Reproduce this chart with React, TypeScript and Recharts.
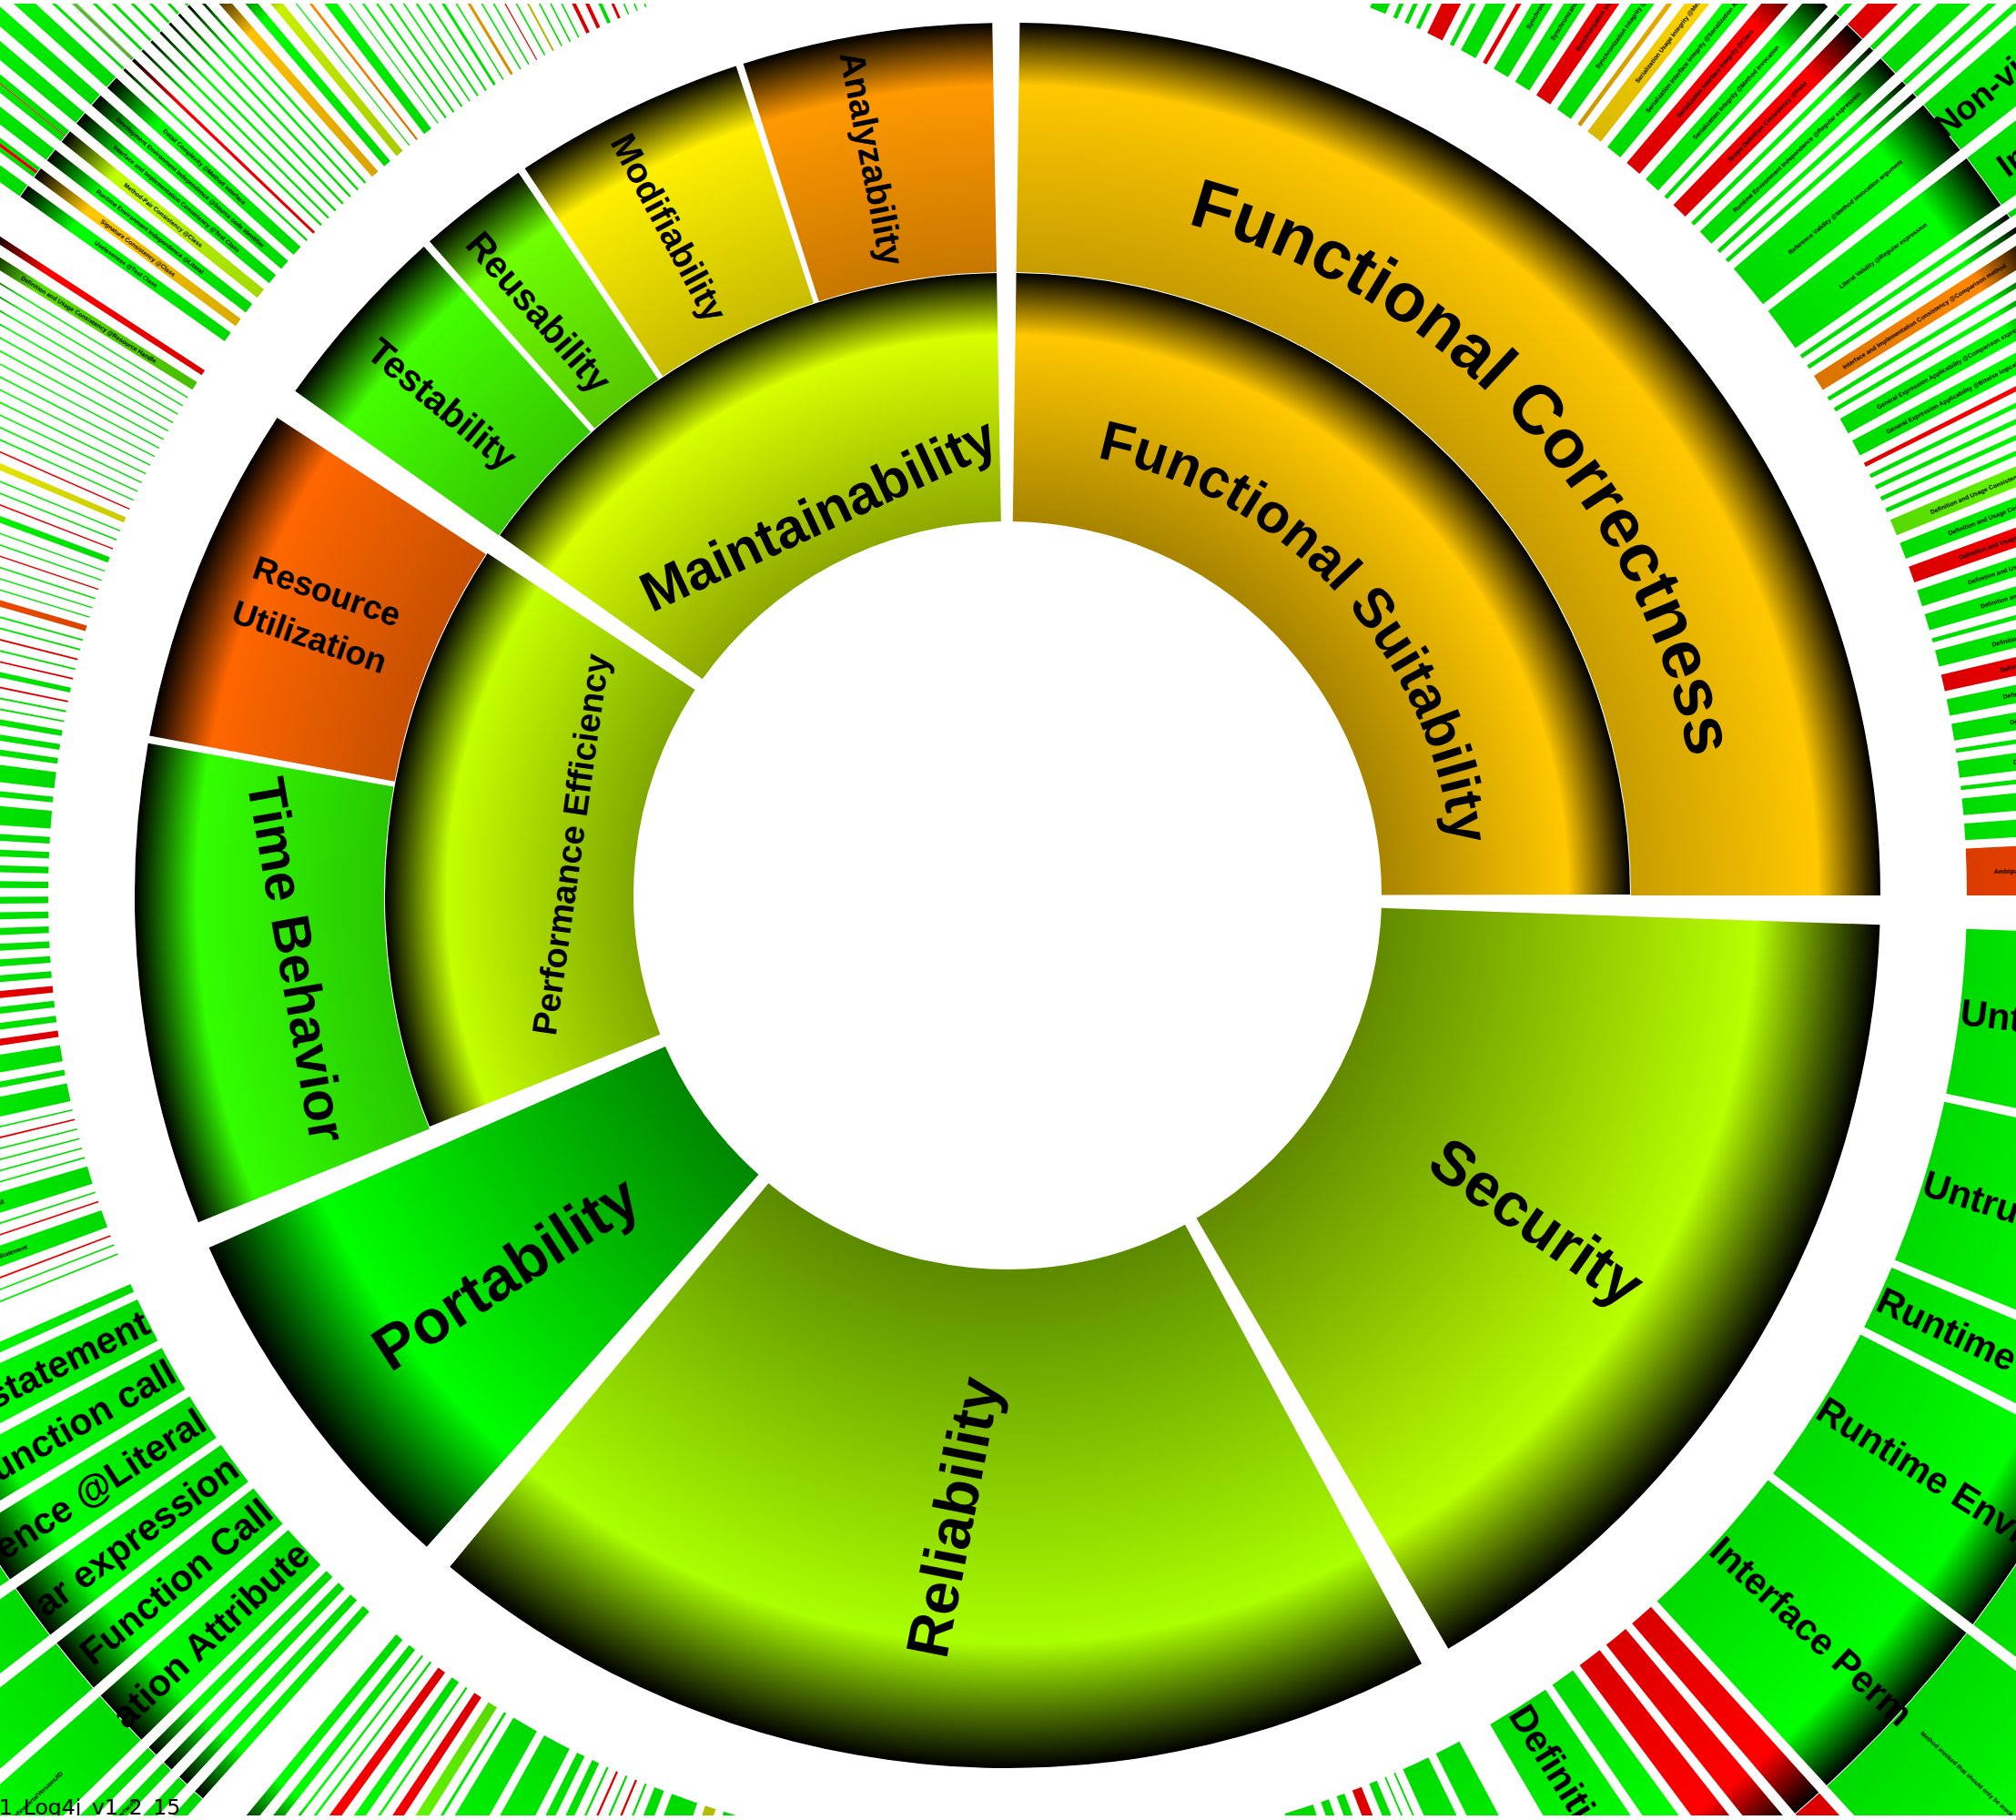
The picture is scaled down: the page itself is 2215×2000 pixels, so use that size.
import { PieChart, Pie, Cell } from 'recharts'

const WIDTH = 2215
const HEIGHT = 2000
const CX = 1107
const CY = 984

// ring radii, in px
const R_CORE = 411
const R_MID = 684
const R_TOP = 959
const R3_IN = 1054
const R3_OUT = 1329
const R4_OUT = 1604

const G = '#00ff00'
const R = '#ff0000'
const FONT = '"Liberation Sans", Arial, sans-serif'

// top level, clockwise from north
const topNames = ['Functional Suitability', 'Security', 'Reliability', 'Portability', 'Performance Efficiency', 'Maintainability']
const topValues = [89.2, 57.8, 68.1, 24.5, 55.2, 53.7]
const topColors = ['#ffc800', '#b8ff00', '#aaff00', '#00ff00', '#c4ff00', '#d8ff00']
const topShades = [0.66, 0.54, 0.54, 0.53, 0.66, 0.66]
const deepNames = ['Security', 'Reliability', 'Portability']

const correctnessNames = ['Functional Correctness']
const correctnessValues = [89.2]
const correctnessColors = ['#ffc800']

const perfNames = ['Time Behavior', 'Resource Utilization']
const perfSubValues = [32.1, 22.7]
const perfSubColors = ['#33ff00', '#ff6600']

const maintainNames = ['Testability', 'Reusability', 'Modifiability', 'Analyzability']
const maintainSubValues = [13.1, 7.6, 15.9, 17.1]
const maintainSubColors = ['#44ff00', '#6eff00', '#fff000', '#ff9900']

// centre and rotation of the hand-placed top labels
const topLabelLayout: Record<string, [number, number, number, number]> = {
  Security: [1689, 1342, 35, 68],
  Reliability: [1047, 1667, -79, 66],
  Portability: [555, 1398, -33, 68],
  'Time Behavior': [326, 1055, 80, 59],
  'Performance Efficiency': [627, 928, -82, 38],
  Maintainability: [899, 565, -25, 61],
  Testability: [486, 444, 40, 41],
  Reusability: [592, 343, 49, 41],
  Modifiability: [735, 250, 62, 39],
  Analyzability: [958, 174, 79, 39],
}

// these two follow the ring: baseline radius, middle angle, font size, letter spacing
const arcLabelLayout: Record<string, [number, number, number, number]> = {
  'Functional Correctness': [764, 46.8, 76, 0],
  'Functional Suitability': [491, 47.5, 61, 0],
}

const functionalValues = [1, .25, .25, .25, 1, .25, 1, .25, 1, 1, 1, 1, .25, 1, 1, 1, 1, .25, 1, .25, 1, .25, .25, 2.75, 2.75, .25, .25, 1, .25, .25, 1, 1, .25, .25, .25, .25, .25, 1, 1, 1, 1, 1, .25, 1, 1, 1, 1, .25, 1, .25, 1, 1, 2.8]
const functionalColors = [G, G, G, G, R, G, G, R, G, G, R, G, '#f0b000', '#ffd800', G, R, G, G, R, G, G, G, G, G, G, G, G, '#ff8800', G, G, G, G, R, G, G, G, G, '#66ff00', G, R, G, G, G, G, R, G, G, G, G, G, G, G, '#ff4600']
const functionalLabels: Record<number, string> = {
  8: 'Synchronization Integrity @Synchronized method',
  9: 'Synchronization Integrity @Synchronized block',
  10: 'Synchronization Interface Integrity @Method',
  11: 'Synchronization Integrity @Method invocation',
  13: 'Serialization Usage Integrity @Method',
  14: 'Serialization Interface Integrity @Serialization API',
  15: 'Serialization Interface Integrity @Class',
  16: 'Serialization Integrity @Method invocation',
  18: 'Scope Definition Consistency @Field',
  20: 'Runtime Environment Independence @Regular expression',
  23: 'Reference Validity @Method invocation argument',
  24: 'Literal Validity @Regular expression',
  27: 'Interface and Implementation Consistency @Comparison method',
  30: 'General Expression Applicability @Comparison expression',
  31: 'General Expression Applicability @Bitwise logical expression',
  37: 'Definition and Usage Consistency @Method argument list',
  38: 'Definition and Usage Consistency @Local variables',
  39: 'Definition and Usage Consistency @Method usage',
  40: 'Definition and Usage Consistency @Field attribute',
  41: 'Definition and Usage Consistency @Class field',
  43: 'Definition and Usage Consistency @Argument',
  44: 'Definition and Usage Consistency @Interface',
  45: 'Definition and Usage Consistency @Class type',
  46: 'Definition and Usage Consistency @Constant',
  48: 'Definition and Usage Consistency @Type name',
  52: 'Ambiguous Reference Resolution @Function invocation argument',
}
const functionalChildren: Record<number, string> = { 17: G, 18: R, 19: G, 20: G, 21: G, 22: G, 23: G, 24: G, 25: G, 26: G }
const functionalChildLabels: Record<number, string> = { 23: 'Non-virtual', 24: 'Internal' }

const securityValues = [9.9, 9.9, 3.9, 9.8, 9.8, 1.5, 1.5, 1.5, 1.5, 3.9]
const securityColors = [G, G, G, G, G, R, R, R, G, G]
const securityLabels: Record<number, string> = {
  0: 'Untrusted Method',
  1: 'Untrusted Input',
  2: 'Runtime Check',
  3: 'Runtime Environment',
  4: 'Interface Perm',
  9: 'Definition',
}
const securityChildren: Record<number, string> = { 3: G, 4: G, 5: R }
const securityChildLabels: Record<number, string> = { 4: 'Method invoked that should only be invoked in a specific context' }

const reliabilityAValues = [1.6, 1.7, .1, .1, .5, .6, .5, .5, 1.8, .5]
const reliabilityAColors = [G, G, G, G, G, R, G, G, G, G]

const reliabilityBValues = [.9, .65, 1.6, .6, .12, .12, .12, .12, .12, .45, .5, 1.7, 1.6, .15, .6, .5, .12, .5, .5, .12, .12, .45, .5]
const reliabilityBColors = [G, '#d0e000', G, G, G, R, G, R, G, G, G, G, G, G, '#66ff00', R, G, G, R, G, G, G, G]

const portabilityValues = [.5, .5, .5, .5, 2.8, 2.7, 2.7, 2.9, 2.8, 2.7, .5]
const portabilityColors = [G, G, G, G, G, G, G, G, G, G, G]
const portabilityLabels: Record<number, string> = {
  4: 'ation Attribute',
  5: 'Function Call',
  6: 'ar expression',
  7: 'ence @Literal',
  8: 'Invalid function call',
  9: 'Return statement',
}
const portabilityChildren: Record<number, string> = { 0: G, 1: G, 2: G, 3: G, 4: G, 5: G, 6: G, 7: G }
const portabilityChildLabels: Record<number, string> = {
  1: 'Should invoke deleteOnExit',
  2: 'Should avoid direct implementation of xml interfaces',
  4: 'Should definesertalVersionUID',
}

const perfValues = [.09, .09, .09, 1.1, .09, .09, 1.1, .09, .09, .09, .09, .09, .09, 1.1, .35, 1, .4, .4, .4, .4, .4, .4, .4, .4, .4, .4, .4, .4, .4, .4, 1.1, .35, 1, .35, .35, .35, .1, .1, .1, .3, .1, .1, .1, .1, .1, .35, .08, .08, .08, .08, .08, .08, .35, .08, .08, .08, .35, .08, .08, .08, .08, .08, .08, .08, .08, .08, .08, .08, .08, .08, .08, .55, .35]
const perfColors = [G, G, R, G, R, G, G, G, G, G, G, R, G, G, G, G, R, G, G, R, G, G, G, G, G, G, G, G, G, G, G, G, G, G, G, G, G, G, R, G, R, G, R, G, G, '#ff5000', G, G, G, R, G, G, G, R, G, G, '#eeee00', R, G, G, G, G, G, G, G, G, G, G, G, G, G, '#55e000', R]
const perfLabels: Record<number, string> = {
  3: 'Method Invocation Statement',
  6: 'Nullability Function Call',
  13: 'Expression statement',
  15: 'Uninitialized Function Call',
  30: 'Assignment statement',
  71: 'Definition and Usage Consistency @Resource Handle',
}

const maintainValues = [.6, .5, .6, .6, .6, .6, .6, .12, .15, .12, .12, .12, .12, .12, .12, .12, .45, .45, .45, .06, .12, .5, .06, .1, .1, .1, .08, .1, .1, .15, .08, .15, .08, .08, .06, .08, .1, .08, .08, .08, .2, .2, .2, .15, .08, .08, .08]
const maintainColors = [G, '#ffc800', G, '#c0ff00', G, G, G, G, R, G, G, G, G, G, G, G, '#ffc000', G, '#c8f000', G, '#ff8800', G, G, G, G, G, G, G, G, G, G, '#f0a800', G, G, R, G, '#c8d000', G, G, G, R, R, G, R, G, G, G]
const maintainLabels: Record<number, string> = {
  0: 'Uselessness @Test Class',
  1: 'Signature Consistency @Class',
  2: 'Runtime Environment Independence @Literal',
  3: 'Method-Pair Consistency @Class',
  4: 'Interface and Implementation Consistency @Test Class',
  5: 'Development Environment Independence @Source code identifier',
  6: 'Detail Complexity @Method interface',
}
// a child is one colour, or a run of [weight, colour] parts
const maintainChildren: Record<number, string | [number, string][]> = {
  0: G,
  1: [[.18, G], [.14, R], [.18, G]],
  2: G,
  3: [[.29, G], [.04, R], [.27, G]],
  4: G,
  5: G,
  6: G,
  7: G,
  8: [[.05, G], [.05, '#e06060'], [.05, G]],
  9: G,
  10: G,
  11: G,
  12: G,
  13: G,
  14: G,
  15: G,
}

interface Group {
  key: string
  from: number
  to: number
  pad: number
  values: number[]
  colors: string[]
  labels?: Record<number, string>
  children?: Record<number, string | [number, string][]>
  childLabels?: Record<number, string>
}

const GROUPS: Group[] = [
  { key: 'functional', from: 22.2, to: 90, pad: .5, values: functionalValues, colors: functionalColors, labels: functionalLabels, children: functionalChildren, childLabels: functionalChildLabels },
  { key: 'security', from: 92, to: 149.8, pad: .5, values: securityValues, colors: securityColors, labels: securityLabels, children: securityChildren, childLabels: securityChildLabels },
  { key: 'reliabilityA', from: 151.9, to: 164.2, pad: .5, values: reliabilityAValues, colors: reliabilityAColors },
  { key: 'reliabilityB', from: 196.3, to: 219.6, pad: .5, values: reliabilityBValues, colors: reliabilityBColors },
  { key: 'portability', from: 221.7, to: 246.1, pad: .5, values: portabilityValues, colors: portabilityColors, labels: portabilityLabels, children: portabilityChildren, childLabels: portabilityChildLabels },
  { key: 'perf', from: 248, to: 303.2, pad: .5, values: perfValues, colors: perfColors, labels: perfLabels },
  { key: 'maintain', from: 305.3, to: 337.9, pad: .48, values: maintainValues, colors: maintainColors, labels: maintainLabels, children: maintainChildren },
]

const BIG_LABELS = new Set(['Non-virtual', 'Internal', ...Object.values(securityLabels), ...Object.values(portabilityLabels)])
// outer-ring big labels start a little off the ring edge
const BIG_START: Record<string, number> = { 'Non-virtual': -7, Internal: 21 }

// clockwise from north -> recharts angle
const toAngle = (deg: number) => 90 - deg

function shade(hex: string, f: number): string {
  const n = parseInt(hex.slice(1), 16)
  const c = [n >> 16, (n >> 8) & 255, n & 255].map(v => Math.round(v * f))
  return `rgb(${c[0]},${c[1]},${c[2]})`
}

function RingGradient({ id, color, inner, outer, f }: { id: string; color: string; inner: number; outer: number; f: number }) {
  return (
    <radialGradient id={id} gradientUnits="userSpaceOnUse" cx={CX} cy={CY} fx={CX} fy={CY} r={outer}>
      <stop offset={inner / outer} stopColor={shade(color, f)} />
      <stop offset={(inner + 0.75 * (outer - inner)) / outer} stopColor={color} />
      <stop offset={1} stopColor="#000" />
    </radialGradient>
  )
}

const gid = (prefix: string, color: string) => `${prefix}-${color.slice(1)}`

const stripeColors = Array.from(new Set(GROUPS.flatMap(g => g.colors).concat('#e06060')))

function polar(r: number, deg: number) {
  const a = (deg * Math.PI) / 180
  return { x: CX + r * Math.sin(a), y: CY - r * Math.cos(a) }
}

function TopLabel(props: any) {
  const name = props.payload?.name ?? props.name
  if (name === 'Resource Utilization') {
    return (
      <g fontFamily={FONT} fontWeight="bold" fontSize={37} textAnchor="middle" dominantBaseline="central" fill="#000">
        <text x={359} y={650} transform="rotate(19 359 650)">Resource</text>
        <text x={340} y={700} transform="rotate(19 340 700)">Utilization</text>
      </g>
    )
  }
  const arc = arcLabelLayout[name]
  if (arc) {
    const [r, mid, size, spacing] = arc
    const a = polar(r, mid - 85)
    const b = polar(r, mid + 85)
    const id = `arc-${size}`
    return (
      <g>
        <path id={id} d={`M ${a.x} ${a.y} A ${r} ${r} 0 0 1 ${b.x} ${b.y}`} fill="none" stroke="none" />
        <text fontFamily={FONT} fontWeight="bold" fontSize={size} letterSpacing={spacing} fill="#000" textAnchor="middle">
          <textPath href={`#${id}`} startOffset="50%">{name}</textPath>
        </text>
      </g>
    )
  }
  const layout = topLabelLayout[name]
  if (!layout) return null
  const [x, y, rot, size] = layout
  return (
    <text x={x} y={y} transform={`rotate(${rot} ${x} ${y})`} textAnchor="middle" dominantBaseline="central"
      fontFamily={FONT} fontWeight="bold" fontSize={size} fill="#000">
      {name}
    </text>
  )
}

function StripeLabel(props: any) {
  const text = props.payload?.text
  if (!text) return null
  const deg = toAngle(props.midAngle)
  const right = deg < 180
  const rot = right ? deg - 90 : deg + 90
  const big = BIG_LABELS.has(text)
  const inner = props.innerRadius
  const outerRing = inner > R3_IN
  const r = big ? inner + 1 + (BIG_START[text] ?? 0) : (inner + props.outerRadius) / 2
  const { x, y } = polar(r, deg)
  return (
    <text x={x} y={y} transform={`rotate(${rot} ${x} ${y})`} dominantBaseline="central"
      textAnchor={big ? (right ? 'start' : 'end') : 'middle'}
      fontFamily={FONT} fontWeight="bold" fontSize={big ? (outerRing ? 37 : 41) : 6.8} fill="#000">
      {text}
    </text>
  )
}

// the outer ring repeats the parent's angles, with the gaps as empty slices
function childRows(g: Group) {
  const total = g.values.reduce((a, b) => a + b, 0)
  const scale = (g.to - g.from - (g.values.length - 1) * g.pad) / total
  const rows: { name: string; value: number; color: string | null; text?: string }[] = []
  g.values.forEach((v, i) => {
    if (i > 0) rows.push({ name: 'gap', value: g.pad, color: null })
    const child = g.children?.[i]
    if (!child) rows.push({ name: 'empty', value: v * scale, color: null })
    else if (typeof child === 'string') rows.push({ name: 'child', value: v * scale, color: child, text: g.childLabels?.[i] })
    else {
      const parts = child as [number, string][]
      const sum = parts.reduce((a, p) => a + p[0], 0)
      parts.forEach(p => rows.push({ name: 'child', value: (p[0] / sum) * v * scale, color: p[1] }))
    }
  })
  return rows
}

function rows(names: string[], values: number[]) {
  return names.map((name, i) => ({ name, value: values[i] }))
}

const pieBase = { cx: CX, cy: CY, dataKey: 'value', stroke: 'none', isAnimationActive: false, labelLine: false, legendType: 'none' as const }

export default function App() {
  const topRows = rows(topNames, topValues)
  return (
    <div style={{ position: 'absolute', left: 0, top: 4, width: WIDTH, height: HEIGHT - 9, overflow: 'hidden', background: '#fff' }}>
      <div style={{ position: 'absolute', left: 0, top: -4 }}>
        <PieChart width={WIDTH} height={HEIGHT} margin={{ top: 0, right: 0, bottom: 0, left: 0 }}>
          <defs>
            {topNames.map((n, i) => (
              <RingGradient key={n} id={`top-${i}`} color={topColors[i]} f={topShades[i]} inner={R_CORE}
                outer={deepNames.includes(n) ? R_TOP : R_MID} />
            ))}
            {correctnessColors.concat(perfSubColors, maintainSubColors).map(c => (
              <RingGradient key={c} id={gid('sub', c)} color={c} f={0.78} inner={R_MID} outer={R_TOP} />
            ))}
            {stripeColors.map(c => (
              <RingGradient key={c} id={gid('s3', c)} color={c} f={0.85} inner={R3_IN} outer={R3_OUT} />
            ))}
            {stripeColors.map(c => (
              <RingGradient key={c} id={gid('s4', c)} color={c} f={0.85} inner={R3_OUT} outer={R4_OUT} />
            ))}
          </defs>

          {/* sectors that run through both inner rings */}
          <Pie {...pieBase} data={topRows} startAngle={toAngle(0.8)} endAngle={toAngle(359)} paddingAngle={2}
            innerRadius={R_CORE} outerRadius={R_TOP}
            label={(p: any) => (deepNames.includes(p.payload?.name) ? <TopLabel {...p} /> : null)}>
            {topNames.map((n, i) => <Cell key={n} fill={deepNames.includes(n) ? `url(#top-${i})` : 'none'} />)}
          </Pie>
          <Pie {...pieBase} data={topRows} startAngle={toAngle(0.8)} endAngle={toAngle(359)} paddingAngle={2}
            innerRadius={R_CORE} outerRadius={R_MID}
            label={(p: any) => (deepNames.includes(p.payload?.name) ? null : <TopLabel {...p} />)}>
            {topNames.map((n, i) => <Cell key={n} fill={deepNames.includes(n) ? 'none' : `url(#top-${i})`} />)}
          </Pie>

          <Pie {...pieBase} data={rows(correctnessNames, correctnessValues)} startAngle={toAngle(0.8)} endAngle={toAngle(90)}
            innerRadius={R_MID + 1} outerRadius={R_TOP} label={TopLabel}>
            {correctnessColors.map(c => <Cell key={c} fill={`url(#${gid('sub', c)})`} />)}
          </Pie>
          <Pie {...pieBase} data={rows(perfNames, perfSubValues)} startAngle={toAngle(248)} endAngle={toAngle(303.2)} paddingAngle={0.5}
            innerRadius={R_MID + 1} outerRadius={R_TOP} label={TopLabel}>
            {perfSubColors.map(c => <Cell key={c} fill={`url(#${gid('sub', c)})`} />)}
          </Pie>
          <Pie {...pieBase} data={rows(maintainNames, maintainSubValues)} startAngle={toAngle(305.3)} endAngle={toAngle(359)} paddingAngle={0.5}
            innerRadius={R_MID + 1} outerRadius={R_TOP} label={TopLabel}>
            {maintainSubColors.map(c => <Cell key={c} fill={`url(#${gid('sub', c)})`} />)}
          </Pie>

          {GROUPS.map(g => (
            <Pie {...pieBase} key={g.key} data={g.values.map((value, i) => ({ name: g.key, value, text: g.labels?.[i] }))}
              startAngle={toAngle(g.from)} endAngle={toAngle(g.to)} paddingAngle={g.pad}
              innerRadius={R3_IN} outerRadius={R3_OUT} label={StripeLabel}>
              {g.colors.map((c, i) => <Cell key={i} fill={`url(#${gid('s3', c)})`} />)}
            </Pie>
          ))}
          {GROUPS.filter(g => g.children).map(g => {
            const data = childRows(g)
            return (
              <Pie {...pieBase} key={`${g.key}-children`} data={data}
                startAngle={toAngle(g.from)} endAngle={toAngle(g.to)}
                innerRadius={R3_OUT + 1} outerRadius={R4_OUT} label={StripeLabel}>
                {data.map((d, i) => <Cell key={i} fill={d.color ? `url(#${gid('s4', d.color)})` : 'none'} />)}
              </Pie>
            )
          })}
        </PieChart>
      </div>
      <div style={{ position: 'absolute', left: -1, top: 1968, fontFamily: '"DejaVu Sans"', fontSize: 23.5, lineHeight: '29px', color: '#000', whiteSpace: 'nowrap' }}>
        1_Log4j_v1_2_15
      </div>
    </div>
  )
}
